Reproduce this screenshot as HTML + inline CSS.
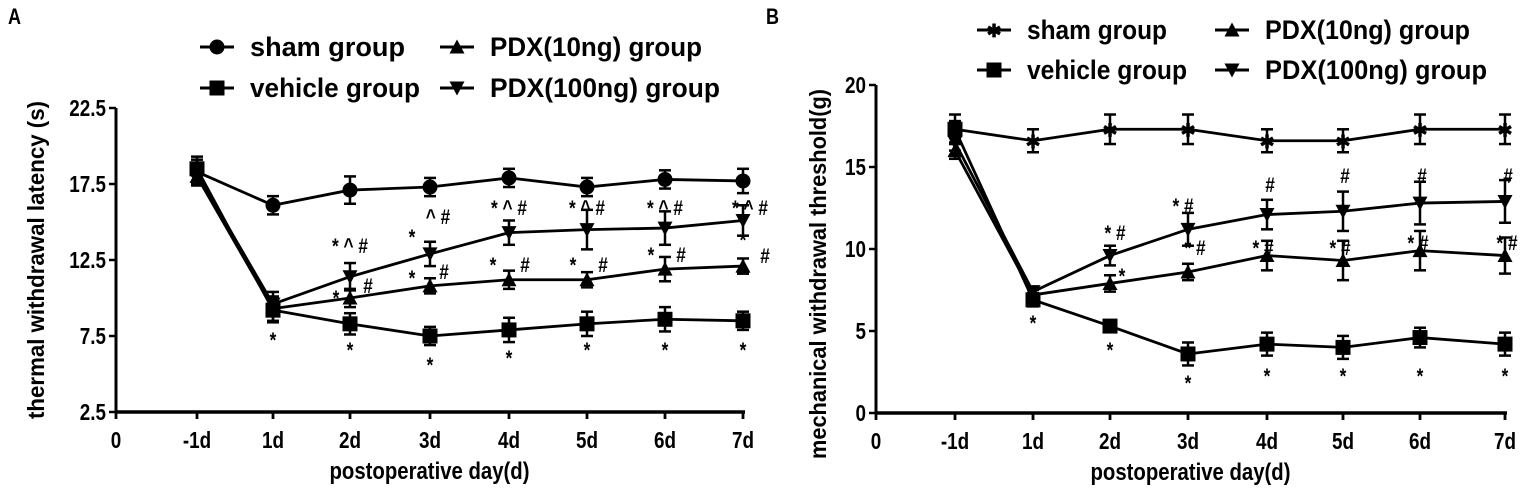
<!DOCTYPE html>
<html><head><meta charset="utf-8"><style>
html,body{margin:0;padding:0;background:#fff;}
svg{display:block;font-family:"Liberation Sans",Arial,sans-serif;font-weight:bold;}
</style></head><body>
<svg id="s" width="1535" height="497" viewBox="0 0 1535 497" xmlns="http://www.w3.org/2000/svg"></svg>
<script>
const S=document.getElementById('s');let h='';
function line(x1,y1,x2,y2,w){h+=`<line x1="${x1}" y1="${y1}" x2="${x2}" y2="${y2}" stroke="#000" stroke-width="${w||2.8}"/>`;}
function txt(x,y,t,sz,anc,extra,len){h+=`<text x="${x}" y="${y}" font-size="${sz}" text-anchor="${anc||'start'}" ${len?`textLength="${len}" lengthAdjust="spacingAndGlyphs"`:'class="n"'} ${extra||''}>${t}</text>`;}
function mk(type,x,y){const r=7.5;
 if(type=='c')h+=`<circle cx="${x}" cy="${y}" r="${r}"/>`;
 if(type=='s')h+=`<rect x="${x-r}" y="${y-r}" width="${2*r}" height="${2*r}"/>`;
 if(type=='t')h+=`<polygon points="${x},${y-r} ${x-r},${y+r-1} ${x+r},${y+r-1}"/>`;
 if(type=='v')h+=`<polygon points="${x},${y+r} ${x-r},${y-r+1} ${x+r},${y-r+1}"/>`;
 if(type=='x')h+=`<text x="${x}" y="${y+7}" font-size="18" text-anchor="middle">✱</text>`;
}
function panel(P){
 const X=i=>P.x0+P.xs[i];const Y=v=>P.yb-(v-P.vmin)*P.k;
 line(P.x0,P.yb,P.xs[P.xs.length-1]+P.x0+2,P.yb,3.5);line(P.x0,P.yt,P.x0,P.yb+1,3);
 P.yt_ticks.forEach(v=>{line(P.x0-7,Y(v),P.x0,Y(v),2.5);txt(P.x0-10,Y(v)+8,v,23,'end');});
 txt(P.x0,P.yb+36,'0',23,'middle');line(P.x0,P.yb,P.x0,P.yb+7);
 const lab=['-1d','1d','2d','3d','4d','5d','6d','7d'];
 lab.forEach((l,i)=>{line(X(i+1),P.yb,X(i+1),P.yb+7);txt(X(i+1),P.yb+36,l,23,'middle');});
 txt((P.x0+X(8))/2,P.yb+67,'postoperative day(d)',24,'middle','',200);
 txt(0,0,P.ylab,23,'middle',`transform="translate(${P.ylx},${(P.yt+P.yb)/2+P.yly}) rotate(-90)"`,P.yll);
 P.series.forEach(s=>{
  let d='';s.v.forEach((v,i)=>{d+=(i?'L':'M')+X(i+1)+','+Y(v);});
  h+=`<path d="${d}" fill="none" stroke="#000" stroke-width="2.8"/>`;
  s.v.forEach((v,i)=>{const e=s.e[i]*P.k;const x=X(i+1),y=Y(v);line(x,y-e,x,y+e,2.5);line(x-6,y-e,x+6,y-e,2.5);line(x-6,y+e,x+6,y+e,2.5);mk(s.m,x,y);});
 });
 P.ann.forEach(a=>txt(a[0],a[1],a[2],21,'middle'));
 P.leg.forEach(l=>{line(l[0],l[1],l[0]+34,l[1],3);mk(l[2],l[0]+17,l[1]);txt(l[0]+50,l[1]+9,l[3],27,'start','',l[4]);});
}
const xsA=[0,81,157,234,314,393,471,549,627];
panel({x0:116,yb:412,yt:108,vmin:2.5,k:15.2,xs:xsA,yt_ticks:[2.5,7.5,12.5,17.5,22.5],ylab:'thermal withdrawal latency (s)',ylx:44,yly:0,yll:318,
 series:[
 {m:'c',v:[18.3,16.1,17.1,17.3,17.9,17.3,17.8,17.7],e:[.8,.6,.9,.6,.6,.6,.6,.8]},
 {m:'s',v:[18.5,9.2,8.3,7.5,7.9,8.3,8.6,8.5],e:[.8,.8,.7,.6,.8,.8,.8,.6]},
 {m:'t',v:[18,9.3,10,10.8,11.2,11.2,11.9,12.1],e:[.6,.8,.6,.5,.6,.5,.8,.5]},
 {m:'v',v:[18.2,9.6,11.4,12.9,14.3,14.5,14.6,15.1],e:[.7,.8,.9,.8,.8,1.3,1.1,1.0]}],
 ann:[[273,347,'*'],[350,357,'*'],[430,372,'*'],[509,365,'*'],[587,357,'*'],[665,357,'*'],[743,357,'*'],
 [350,253,'* ^ #'],[336,305,'*'],[368,293,'#'],[412,244,'*'],[438,224,'^ #'],[412,285,'*'],[444,279,'#'],
 [509,215,'* ^ #'],[493,272,'*'],[525,272,'#'],[587,215,'* ^ #'],[573,272,'*'],[603,272,'#'],[665,215,'* ^ #'],[651,262,'*'],[681,262,'#'],[750,215,'* ^ #'],[743,247,'*'],[765,263,'#']],
 leg:[[200,47,'c','sham group',155],[440,47,'t','PDX(10ng) group',212],[200,88,'s','vehicle group',170],[440,88,'v','PDX(100ng) group',230]]});
const xsB=[0,79,157,234,312,391,467,544,629];
panel({x0:876,yb:413,yt:85,vmin:0,k:16.4,xs:xsB,yt_ticks:[0,5,10,15,20],ylab:'mechanical withdrawal threshold(g)',ylx:826,yly:25,yll:370,
 series:[
 {m:'x',v:[17.3,16.6,17.3,17.3,16.6,16.6,17.3,17.3],e:[.9,.7,.9,.9,.7,.7,.9,.9]},
 {m:'s',v:[17.3,6.9,5.3,3.6,4.2,4.0,4.6,4.2],e:[.5,.4,.3,.7,.7,.7,.6,.7]},
 {m:'t',v:[16,7.2,7.9,8.6,9.6,9.3,9.9,9.6],e:[.5,.3,.5,.5,.9,1.2,1.2,1.1]},
 {m:'v',v:[16.5,7.4,9.6,11.2,12.1,12.3,12.8,12.9],e:[.5,.3,.6,1.0,.9,1.2,1.3,1.3]}],
 ann:[[1033,330,'*'],[1110,357,'*'],[1188,390,'*'],[1267,383,'*'],[1343,383,'*'],[1420,383,'*'],[1505,383,'*'],
 [1115,240,'* #'],[1122,283,'*'],[1183,213,'* #'],[1195,255,'* #'],[1270,192,'#'],[1263,255,'* #'],[1345,183,'#'],[1340,255,'* #'],[1422,183,'#'],[1418,250,'* #'],[1508,183,'#'],[1507,250,'* #']],
 leg:[[977,30,'x','sham group',140],[1215,30,'t','PDX(10ng) group',205],[977,70,'s','vehicle group',160],[1215,70,'v','PDX(100ng) group',222]]});
txt(8,24,'A',22);txt(766,24,'B',22);
S.innerHTML=h;
document.querySelectorAll('text.n').forEach(t=>{const w=t.getComputedTextLength();t.setAttribute('textLength',w*0.82);t.setAttribute('lengthAdjust','spacingAndGlyphs');});
</script>
</body></html>
